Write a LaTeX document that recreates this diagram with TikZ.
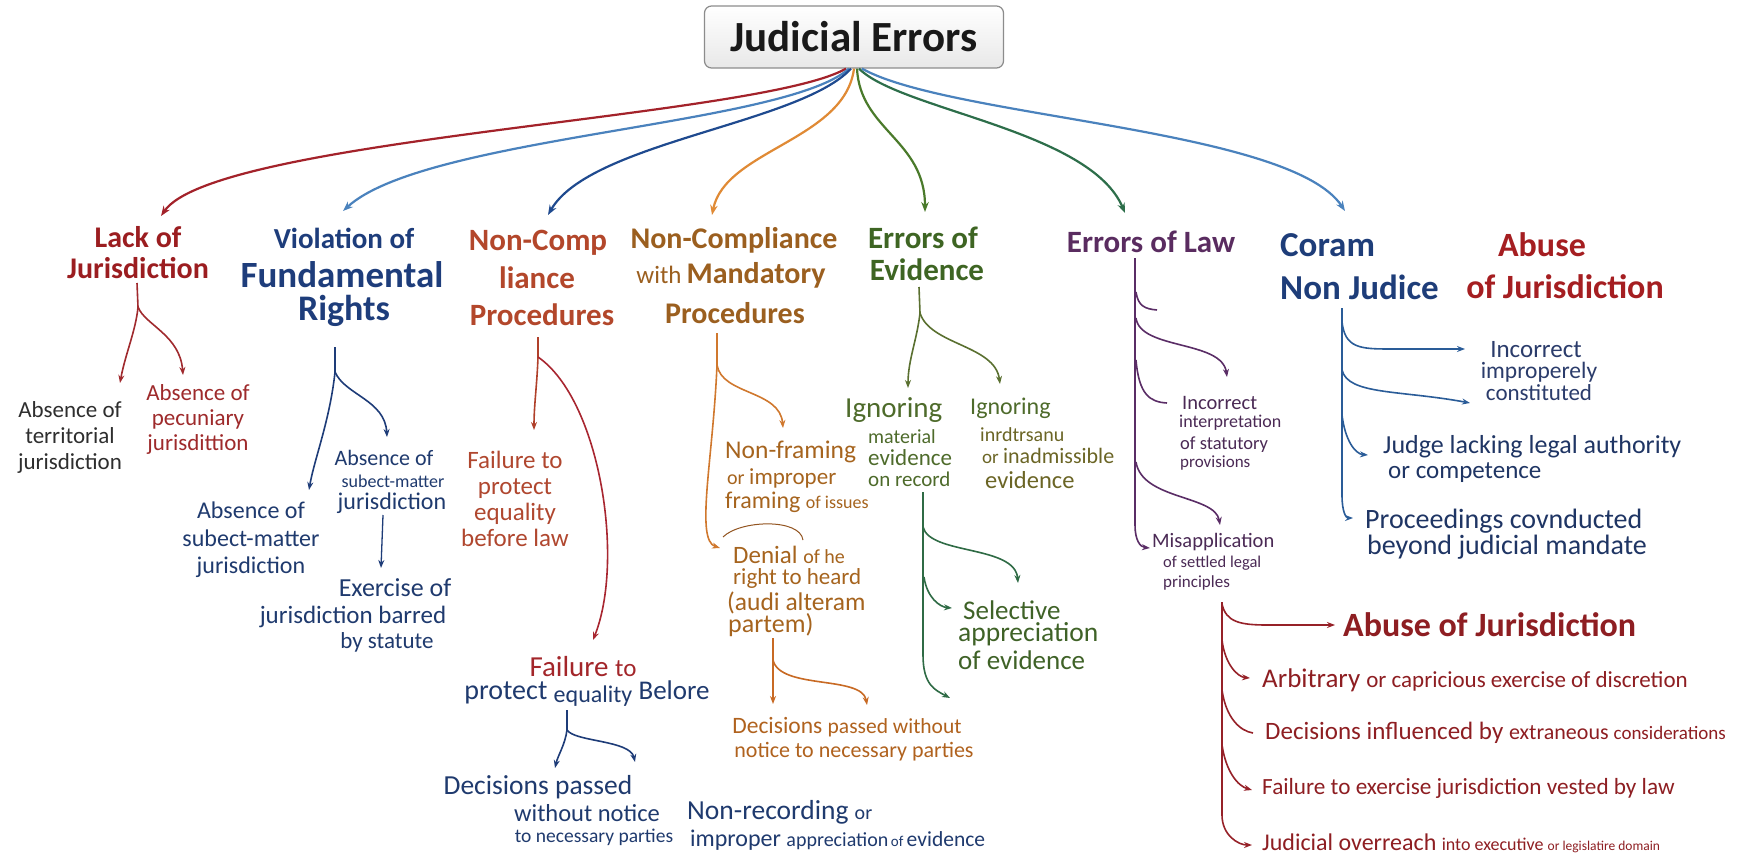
\documentclass[tikz,border=0pt]{standalone}
\usepackage{fontspec}
\setmainfont{Carlito}
\usetikzlibrary{arrows.meta}
\newcommand\myfs[1]{\fontsize{#1}{#1}\selectfont}
\definecolor{cLack}{HTML}{9B1D20}
\definecolor{cDark}{HTML}{2E2E2E}
\definecolor{cPec}{HTML}{9E2A2B}
\definecolor{cVio}{HTML}{1E3D7B}
\definecolor{cNavy}{HTML}{1F3A6E}
\definecolor{cNC}{HTML}{B3472B}
\definecolor{cFpe}{HTML}{B0472F}
\definecolor{cFail}{HTML}{A3262A}
\definecolor{cNCM}{HTML}{9B5F1F}
\definecolor{cNf}{HTML}{A6641E}
\definecolor{cDpw}{HTML}{B0621E}
\definecolor{cEv}{HTML}{3E6523}
\definecolor{cIg}{HTML}{4E6B2B}
\definecolor{cOl}{HTML}{6B6525}
\definecolor{cSel}{HTML}{3F6227}
\definecolor{cLaw}{HTML}{5A2C60}
\definecolor{cInc}{HTML}{4B2A55}
\definecolor{cCor}{HTML}{1E3D79}
\definecolor{cImp}{HTML}{2B3C6B}
\definecolor{cJud}{HTML}{1F3564}
\definecolor{cAb}{HTML}{A51E21}
\definecolor{cAbL}{HTML}{8E1E22}
% connector colours
\definecolor{aRed}{HTML}{A3222A}
\definecolor{aSteel}{HTML}{4A82BD}
\definecolor{aNavy}{HTML}{1F4A8F}
\definecolor{aOrange}{HTML}{E08A35}
\definecolor{aGreen}{HTML}{4A7A2B}
\definecolor{aTeal}{HTML}{2D6E4A}
\definecolor{aLack}{HTML}{A02A2E}
\definecolor{aVio}{HTML}{1E3C78}
\definecolor{aRust}{HTML}{B0402A}
\definecolor{aNCr}{HTML}{A82630}
\definecolor{aNCM}{HTML}{D0782E}
\definecolor{aPart}{HTML}{C86A24}
\definecolor{aEv}{HTML}{5A7030}
\definecolor{aRec}{HTML}{2F6B45}
\definecolor{aLaw}{HTML}{5A2D66}
\definecolor{aCor}{HTML}{2A5C98}
\definecolor{aAb}{HTML}{962128}
\tikzset{
  ln/.style={inner sep=0pt, anchor=center},
  lnw/.style={inner sep=0pt, anchor=west},
  blk/.style={inner sep=0pt, align=center},
  rootarr/.style={line width=2.2pt, -{Stealth[length=10pt,width=7.5pt]}},
  brarr/.style={line width=1.6pt, -{Stealth[length=8pt,width=6pt]}},
  brline/.style={line width=1.6pt},
}
\begin{document}
\begin{tikzpicture}[x=1pt,y=-1pt]
\fill[white] (0,0) rectangle (1738,856);
\useasboundingbox (0,0) rectangle (1738,856);

% ---------- title ----------
\node[draw=black!45, line width=1.2pt, rounded corners=7pt, top color=white, bottom color=black!9,
      minimum width=299pt, minimum height=62pt, inner sep=0pt, font=\bfseries\myfs{43}, text=black!90]
      (root) at (854,37) {Judicial Errors};

% ---------- level 1 ----------
\node[ln, text=cLack, font=\bfseries\myfs{30}] (lack1) at (138,237) {Lack of};
\node[ln, text=cLack, font=\bfseries\myfs{30}] (lack2) at (138,268) {Jurisdiction};
\node[ln, text=cVio, font=\bfseries\myfs{29}] (vio1) at (344,238) {Violation of};
\node[ln, text=cVio, font=\bfseries\myfs{37}] (vio2) at (342,275) {Fundamental};
\node[ln, text=cVio, font=\bfseries\myfs{36}] (vio3) at (344,311) {Rights};
\node[ln, text=cNC, font=\bfseries\myfs{31}] (nc1) at (538,243) {Non-Comp};
\node[ln, text=cNC, font=\bfseries\myfs{31}] (nc2) at (537,278) {liance};
\node[ln, text=cNC, font=\bfseries\myfs{31}] (nc3) at (542,315) {Procedures};
\node[ln, text=cNCM, font=\bfseries\myfs{30}] (ncm1) at (734,240) {Non-Compliance};
\node[ln, text=cNCM, font=\bfseries\myfs{30}] (ncm2) at (731,275) {{\mdseries\myfs{25}with}\,Mandatory};
\node[ln, text=cNCM, font=\bfseries\myfs{30}] (ncm3) at (735,313) {Procedures};
\node[ln, text=cEv, font=\bfseries\myfs{31}] (ev1) at (923,238) {Errors of};
\node[ln, text=cEv, font=\bfseries\myfs{31}] (ev2) at (927,270) {Evidence};
\node[ln, text=cLaw, font=\bfseries\myfs{31}] (law) at (1151,242) {Errors of Law};
\node[lnw, text=cCor, font=\bfseries\myfs{35}] (cor1) at (1280,245) {Coram};
\node[lnw, text=cCor, font=\bfseries\myfs{35}] (cor2) at (1280,287) {Non Judice};
\node[ln, text=cAb, font=\bfseries\myfs{34}] (ab1) at (1542,245) {Abuse};
\node[ln, text=cAb, font=\bfseries\myfs{34}] (ab2) at (1565,287) {of Jurisdiction};

% ---------- level 2 texts ----------
\node[blk, text=cDark, font=\fontsize{23}{26}\selectfont] (terr) at (70,437) {Absence of\\territorial\\jurisdiction};
\node[blk, text=cPec, font=\fontsize{23}{25}\selectfont] (pec) at (198,419) {Absence of\\pecuniary\\jurisdittion};
\node[blk, text=cNavy, font=\fontsize{24}{27.5}\selectfont] (subj) at (251,540) {Absence of\\subect-matter\\jurisdiction};
\node[ln, text=cNavy, font=\myfs{22}] (sm1) at (384,458) {Absence of};
\node[ln, text=cNavy, font=\myfs{18}] (sm2) at (393,481) {subect-matter};
\node[ln, text=cNavy, font=\myfs{24}] (sm3) at (392,503) {jurisdiction};
\node[ln, text=cNavy, font=\myfs{26}] (ex1) at (395,588) {Exercise of};
\node[ln, text=cNavy, font=\myfs{25}] (ex2) at (353,617) {jurisdiction barred};
\node[ln, text=cNavy, font=\myfs{23}] (ex3) at (387,642) {by statute};
\node[blk, text=cFpe, font=\fontsize{25}{26}\selectfont] (fpe) at (515,499) {Failure to\\protect\\equality\\before law};
\node[ln, text=cFail] (fail1) at (583,667) {\myfs{29}Failure \myfs{25}to};
\node[ln, text=cNavy] (fail2) at (587,694) {\myfs{28}protect \raisebox{-3pt}{\myfs{24}equality} \myfs{27}Belore};
\node[ln, text=cNavy, font=\myfs{27.5}] (dp1) at (538,787) {Decisions passed};
\node[ln, text=cNavy, font=\myfs{24.5}] (dp2) at (587,813) {without notice};
\node[ln, text=cNavy, font=\myfs{19.5}] (dp3) at (594,837) {to necessary parties};
\node[lnw, text=cNavy] (nr1) at (687,812) {\myfs{27.5}Non-recording \myfs{20}or};
\node[lnw, text=cNavy] (nr2) at (690,840) {\myfs{24}improper \myfs{20}appreciation\myfs{15}\,of \myfs{21.5}evidence};
\node[lnw, text=cNf, font=\myfs{25.5}] (nf1) at (725,452) {Non-framing};
\node[lnw, text=cNf] (nf2) at (727,478) {\myfs{20}or \myfs{23}improper};
\node[lnw, text=cNf] (nf3) at (725,502) {\myfs{24}framing \myfs{18}of issues};
\node[lnw, text=cNf] (den1) at (733,555) {\myfs{25}Denial \myfs{20}of he};
\node[lnw, text=cNf, font=\myfs{23}] (den2) at (733,578) {right to heard};
\node[lnw, text=cNf, font=\myfs{25.5}] (den3) at (727,603) {(audi alteram};
\node[lnw, text=cNf, font=\myfs{26}] (den4) at (728,625) {partem)};
\node[ln, text=cDpw] (dpw1) at (847,727) {\myfs{23.5}Decisions \myfs{21.5}passed without};
\node[ln, text=cDpw, font=\myfs{22}] (dpw2) at (854,752) {notice to necessary parties};
\node[lnw, text=cIg, font=\myfs{29}] (ig1) at (845,410) {Ignoring};
\node[lnw, text=cIg, font=\myfs{20}] (ig2) at (868,437) {material};
\node[lnw, text=cIg, font=\myfs{23}] (ig3) at (868,458) {evidence};
\node[lnw, text=cIg, font=\myfs{21}] (ig4) at (868,479) {on record};
\node[lnw, text=cIg, font=\myfs{24}] (ii1) at (970,408) {Ignoring};
\node[lnw, text=cOl, font=\myfs{20}] (ii2) at (980,435) {inrdtrsanu};
\node[lnw, text=cOl] (ii3) at (982,456) {\myfs{19}or \myfs{22}inadmissible};
\node[lnw, text=cOl, font=\myfs{24.5}] (ii4) at (985,480) {evidence};
\node[lnw, text=cSel, font=\myfs{27}] (sel1) at (963,610) {Selective};
\node[lnw, text=cSel, font=\myfs{27.5}] (sel2) at (958,634) {appreciation};
\node[lnw, text=cSel, font=\myfs{27}] (sel3) at (958,660) {of evidence};
\node[lnw, text=cInc, font=\myfs{20.5}] (inc1) at (1182,403) {Incorrect};
\node[lnw, text=cInc, font=\myfs{18}] (inc2) at (1179,423) {interpretation};
\node[lnw, text=cInc, font=\myfs{18.5}] (inc3) at (1180,445) {of statutory};
\node[lnw, text=cInc, font=\myfs{17}] (inc4) at (1180,463) {provisions};
\node[lnw, text=cInc, font=\myfs{20.5}] (mis1) at (1152,542) {Misapplication};
\node[lnw, text=cInc, font=\myfs{16.5}] (mis2) at (1163,563) {of settled legal};
\node[lnw, text=cInc, font=\myfs{17}] (mis3) at (1163,583) {principles};
\node[ln, text=cImp, font=\myfs{25}] (imp1) at (1536,350) {Incorrect};
\node[ln, text=cImp, font=\myfs{23.5}] (imp2) at (1539,372) {improperely};
\node[ln, text=cImp, font=\myfs{23}] (imp3) at (1539,393) {constituted};
\node[lnw, text=cJud, font=\myfs{26}] (jud1) at (1383,447) {Judge lacking legal authority};
\node[lnw, text=cJud, font=\myfs{25}] (jud2) at (1388,473) {or competence};
\node[lnw, text=cJud, font=\myfs{28}] (pro1) at (1365,521) {Proceedings covnducted};
\node[lnw, text=cJud, font=\myfs{28}] (pro2) at (1367,547) {beyond judicial mandate};
\node[lnw, text=cAbL, font=\bfseries\myfs{34}] (abj) at (1343,625) {Abuse of Jurisdiction};
\node[lnw, text=cAbL] (aba) at (1262,680) {\myfs{27}Arbitrary \myfs{23}or capricious exercise of discretion};
\node[lnw, text=cAbL] (abb) at (1265,733) {\myfs{25}Decisions influenced by \myfs{22}extraneous \myfs{19}considerations};
\node[lnw, text=cAbL, font=\myfs{23.2}] (abc) at (1262,788) {Failure to exercise jurisdiction vested by law};
\node[lnw, text=cAbL] (abd) at (1262,843) {\myfs{24}Judicial overreach \myfs{18}into executive \myfs{13.5}or legislatire domain};

% ---------- coordinates ----------
\coordinate (r1) at (161,216);
\coordinate (r2) at (343,211);
\coordinate (r3) at (548,215);
\coordinate (r4) at (712,215);
\coordinate (r5) at (925,212);
\coordinate (r6) at (1125,213);
\coordinate (r7) at (1345,211);
\coordinate (lackT) at (137,283); \coordinate (lackF) at (138,307);
\coordinate (lackL) at (120,383); \coordinate (lackR) at (183,375);
\coordinate (vT) at (335,347); \coordinate (vF) at (335,372);
\coordinate (vL) at (309,490); \coordinate (vR) at (387,437);
\coordinate (smT) at (383,515); \coordinate (smB) at (381,568);
\coordinate (ncT) at (538,337); \coordinate (ncF) at (538,357);
\coordinate (ncL) at (534,430); \coordinate (ncR) at (593,640);
\coordinate (nmT) at (717,333); \coordinate (nmF) at (717,365);
\coordinate (nmR) at (783,428); \coordinate (nmL) at (720,548);
\coordinate (pT) at (773,638); \coordinate (pF) at (773,660);
\coordinate (pL) at (773,704); \coordinate (pR) at (867,705);
\coordinate (eT) at (919,287); \coordinate (eF) at (920,313);
\coordinate (eL) at (908,388); \coordinate (eR) at (1000,384);
\coordinate (oT) at (923,492); \coordinate (oB1) at (923,527); \coordinate (oB2) at (924,577);
\coordinate (o1) at (1018,583); \coordinate (o2) at (952,608); \coordinate (o3) at (950,698);
\coordinate (lT) at (1135,258); \coordinate (lM) at (1150,548);
\coordinate (lB) at (1227,377); \coordinate (lD) at (1220,525);
\coordinate (cT) at (1342,308); \coordinate (cD) at (1353,518);
\coordinate (cA) at (1465,349); \coordinate (cB) at (1470,403); \coordinate (cC) at (1368,455);
\coordinate (aT) at (1222,602); \coordinate (aE) at (1252,845);
\coordinate (aA) at (1335,625); \coordinate (aB) at (1250,678); \coordinate (aD) at (1252,790);
\coordinate (fT) at (567,710); \coordinate (fF) at (567,730);
\coordinate (fL) at (555,768); \coordinate (fR) at (635,762);

% ---------- root connectors ----------
\draw[rootarr, aRed] ([xshift=-8pt]root.south) .. controls (760,118) and (215,138) .. (r1);
\draw[rootarr, aSteel] ([xshift=-5pt]root.south) .. controls (785,126) and (425,136) .. (r2);
\draw[rootarr, aNavy] ([xshift=-3pt]root.south) .. controls (800,124) and (590,142) .. (r3);
\draw[rootarr, aOrange] ([xshift=0pt]root.south) .. controls (845,140) and (725,150) .. (r4);
\draw[rootarr, aGreen] ([xshift=3pt]root.south) .. controls (860,130) and (925,140) .. (r5);
\draw[rootarr, aTeal] ([xshift=5pt]root.south) .. controls (900,110) and (1090,130) .. (r6);
\draw[rootarr, aSteel] ([xshift=8pt]root.south) .. controls (950,118) and (1290,128) .. (r7);

% ---------- branches ----------
\draw[brarr, aLack] (lackT) -- (lackF) .. controls (136,330) and (125,355) .. (lackL);
\draw[brarr, aLack] (lackF) .. controls (145,325) and (180,335) .. (lackR);

\draw[brarr, aVio] (vT) -- (vF) .. controls (330,420) and (314,460) .. (vL);
\draw[brarr, aVio] (vF) .. controls (345,395) and (385,400) .. (vR);
\draw[brarr, aVio, line width=1.3pt] (smT) -- (smB);

\draw[brarr, aRust] (ncT) -- (ncF) .. controls (537,385) and (534,405) .. (ncL);
\draw[brarr, aNCr] (ncF) .. controls (600,400) and (625,560) .. (ncR);

\draw[brarr, aNCM] (nmT) -- (nmF) .. controls (722,395) and (780,390) .. (nmR);
\draw[brarr, aNCM] (nmF) .. controls (713,460) and (695,540) .. (nmL);
\draw[line width=1pt, aNCM!70!black] (723,537) .. controls (740,520) and (800,518) .. (803,540);

\draw[brarr, aPart] (pT) -- (pL);
\draw[brarr, aPart] (pF) .. controls (780,690) and (862,675) .. (pR);

\draw[brarr, aEv] (eT) -- (eF) .. controls (917,340) and (908,360) .. (eL);
\draw[brarr, aEv] (eF) .. controls (930,345) and (995,345) .. (eR);

\draw[brarr, aRec] (oT) -- (oB1) .. controls (930,555) and (1015,545) .. (o1);
\draw[brarr, aRec] (oB2) .. controls (927,598) and (940,607) .. (o2);
\draw[brarr, aRec] (oT) -- (923,655) .. controls (923,685) and (935,690) .. (o3);

\draw[brarr, aLaw] (lT) -- (1135,525) .. controls (1135,540) and (1140,547) .. (lM);
\draw[brline, aLaw] (1136,292) .. controls (1138,306) and (1145,309) .. (1157,310);
\draw[brarr, aLaw] (1136,318) .. controls (1140,350) and (1222,340) .. (lB);
\draw[brline, aLaw] (1136,360) .. controls (1139,395) and (1150,402) .. (1167,403);
\draw[brarr, aLaw] (1136,462) .. controls (1142,500) and (1215,495) .. (lD);

\draw[brarr, aCor] (cT) -- (1342,495) .. controls (1342,512) and (1346,518) .. (cD);
\draw[brarr, aCor] (1342,322) .. controls (1345,348) and (1360,349) .. (1390,349) -- (cA);
\draw[brarr, aCor] (1342,370) .. controls (1348,395) and (1400,390) .. (cB);
\draw[brarr, aCor] (1342,415) .. controls (1345,440) and (1355,454) .. (cC);

\draw[brarr, aAb] (aT) -- (1222,815) .. controls (1222,835) and (1238,845) .. (aE);
\draw[brarr, aAb] (1222,604) .. controls (1226,622) and (1240,625) .. (1267,625) -- (aA);
\draw[brarr, aAb] (1222,640) .. controls (1225,665) and (1238,677) .. (aB);
\draw[brline, aAb] (1222,690) .. controls (1226,718) and (1240,731) .. (1253,733);
\draw[brarr, aAb] (1222,745) .. controls (1226,772) and (1238,786) .. (aD);

\draw[brarr, aVio] (fT) -- (fF) .. controls (565,745) and (558,755) .. (fL);
\draw[brarr, aVio] (fF) .. controls (575,742) and (630,740) .. (fR);
\end{tikzpicture}
\end{document}
